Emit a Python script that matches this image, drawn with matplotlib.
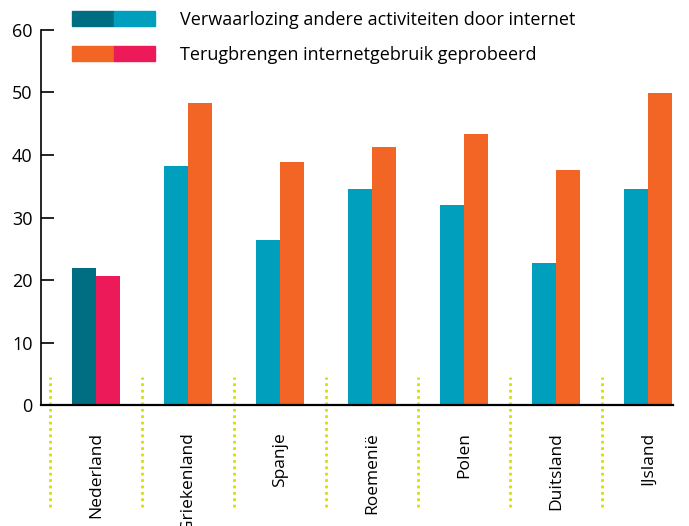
import numpy as np
import matplotlib
matplotlib.use('Agg')
from matplotlib import pyplot as plt
from matplotlib.patches import Patch
from matplotlib.legend_handler import HandlerTuple

plt.rcParams['font.family'] = ['Open Sans', 'DejaVu Sans']

landen = ['Nederland', 'Griekenland', 'Spanje', 'Roemenië', 'Polen', 'Duitsland', 'IJsland']
verwaarlozing = [22.0, 38.2, 26.4, 34.6, 32.0, 22.7, 34.6]
terugbrengen = [20.7, 48.3, 38.9, 41.3, 43.4, 37.6, 49.9]
labels = ['Verwaarlozing andere activiteiten door internet',
          'Terugbrengen internetgebruik geprobeerd']

teal_nl, teal = '#006e82', '#009fbd'
pink_nl, orange = '#ed1a5a', '#f26525'
dots = '#d6e000'

fig = plt.figure(figsize=(6.89, 5.26), dpi=100)
ax = fig.add_axes([0.0595, 0.23, 0.9175, 0.713])

x = np.arange(len(landen))
w = 0.26
c1 = [teal_nl] + [teal] * (len(landen) - 1)
c2 = [pink_nl] + [orange] * (len(landen) - 1)
ax.bar(x - w / 2, verwaarlozing, w, color=c1)
ax.bar(x + w / 2, terugbrengen, w, color=c2)

# dotted separators between countries
ax.vlines(x - 0.5, -16.3, 4.5, colors=dots, linestyles=(0, (1, 1.3)),
          linewidth=2, clip_on=False)

ax.set_xlim(-0.598, 6.27)
ax.set_ylim(0, 60)
ax.set_yticks(range(0, 61, 10))
ax.tick_params(axis='y', direction='in', length=9, width=1.2, labelsize=13, pad=6)
ax.set_xticks(x)
ax.set_xticklabels(landen, rotation=90, fontsize=12.5, va='top')
ax.tick_params(axis='x', length=0, pad=19.5)
for s in ['top', 'right']:
    ax.spines[s].set_visible(False)
ax.spines['left'].set_linewidth(1.2)
ax.spines['bottom'].set_linewidth(1.6)

h1 = (Patch(color=teal_nl), Patch(color=teal))
h2 = (Patch(color=orange), Patch(color=pink_nl))
fig.legend([h1, h2], labels, handler_map={tuple: HandlerTuple(ndivide=None, pad=0)},
           loc='upper left', bbox_to_anchor=(72 / 689, 1 - 11 / 526), frameon=False,
           fontsize=13, handlelength=4.6, handleheight=0.9, handletextpad=1.4,
           labelspacing=0.95, borderpad=0, borderaxespad=0)

fig.savefig('out.png', dpi=100)
